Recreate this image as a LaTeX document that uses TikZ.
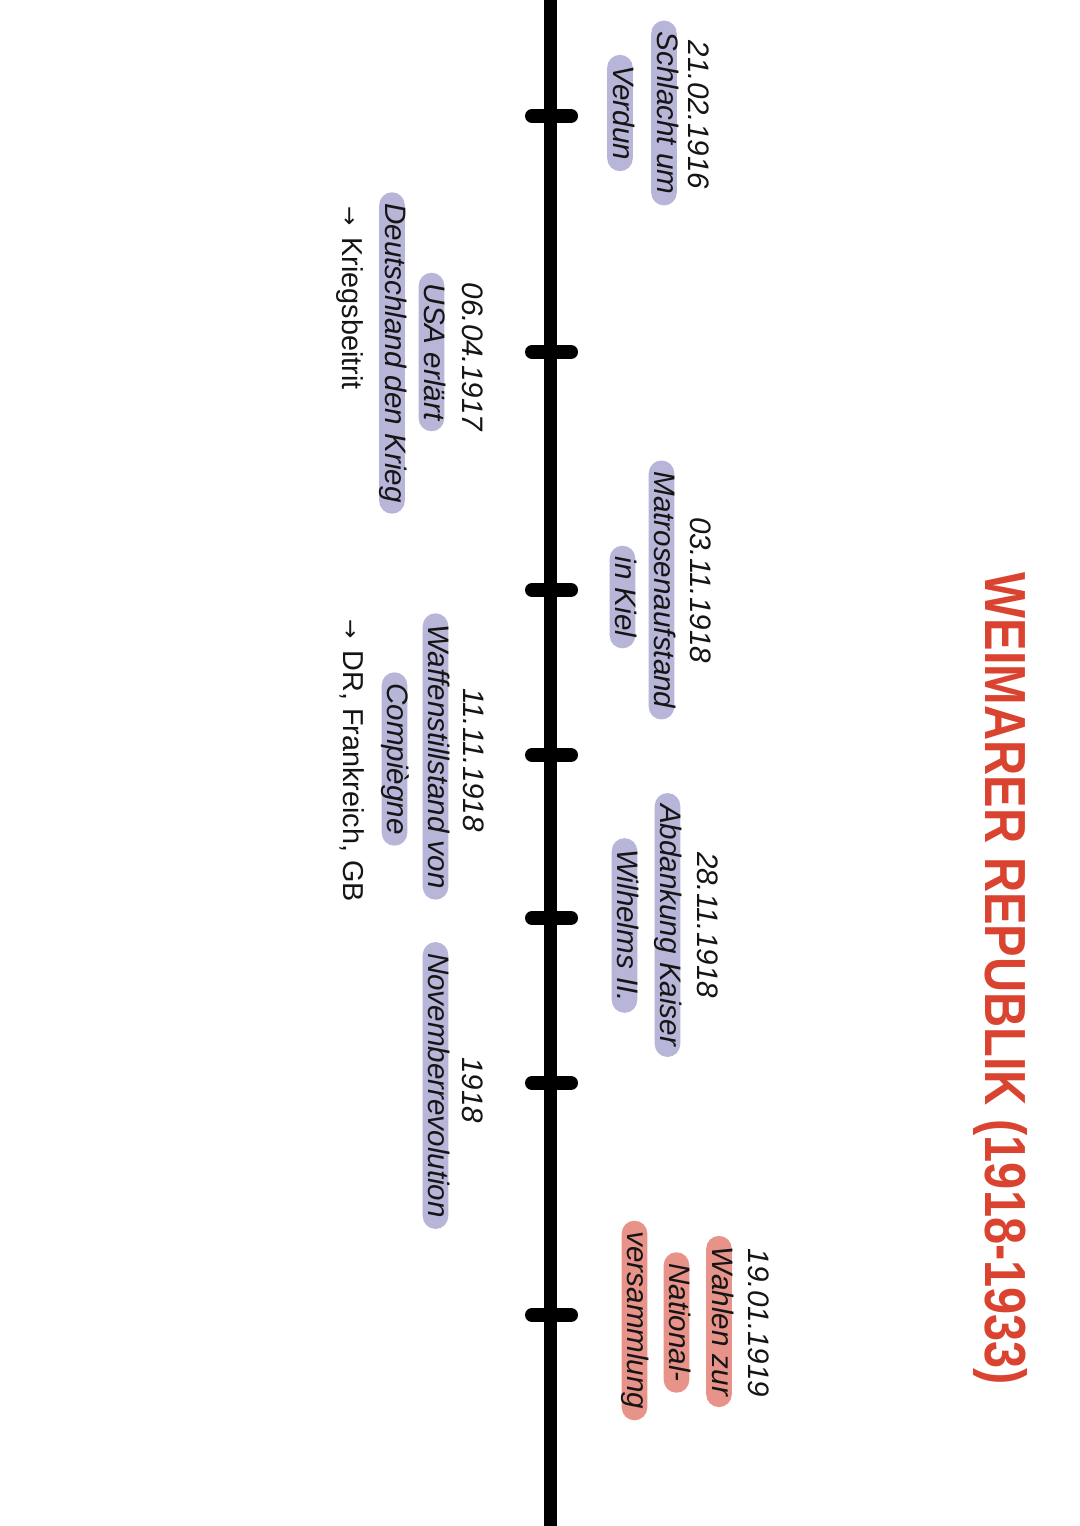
\documentclass[tikz,border=0pt]{standalone}
\usepackage{fontspec}
\setmainfont{Liberation Sans}
\newfontfamily\titlefont[FakeStretch=0.84]{Liberation Sans Bold}
\newfontfamily\symfont{DejaVu Sans}
\usetikzlibrary{calc}
\definecolor{lav}{HTML}{B8B6D8}
\definecolor{sal}{HTML}{E8938A}
\definecolor{titlered}{HTML}{D9432F}
\definecolor{inkc}{HTML}{151515}
\tikzset{
  lbl/.style={rotate=-90, inner sep=0pt, text=inkc},
  datelbl/.style={lbl, font=\fontsize{14.8}{16}\selectfont\itshape, anchor=base},
  pill/.style={lbl, fill=lav, rounded corners=6.4pt, font=\fontsize{14.8}{16}\selectfont\itshape,
    text height=9.9pt, text depth=2.9pt, inner xsep=5.5pt, inner ysep=0pt},
  redpill/.style={pill, fill=sal},
  note/.style={lbl, font=\fontsize{14.4}{16}\selectfont, anchor=base west},
  titlelbl/.style={lbl, text=titlered, font=\fontsize{29}{32}\selectfont\titlefont, anchor=base},
  axisline/.style={line width=6.5pt, black},
  tickmark/.style={line width=7pt, black, line cap=round}
}
\newcommand{\smallarrow}{{\fontsize{11.5}{12}\selectfont\symfont →}\hspace{6pt}}
\begin{document}
\begin{tikzpicture}[x=0.5pt, y=-0.5pt]
\fill[white] (0,0) rectangle (1080,1526);
\useasboundingbox (0,0) rectangle (1080,1526);

% axis
\coordinate (top) at (550.5,0);
\coordinate (bot) at (550.5,1526);
\draw[axisline] (top) -- (bot);
\foreach \n/\yy in {1/116, 2/352, 3/590, 4/755, 5/918, 6/1083, 7/1315}{
  \coordinate (tl\n) at (532,\yy);
  \coordinate (tr\n) at (571,\yy);
  \draw[tickmark] (tl\n) -- (tr\n);
}

% title
\node[titlelbl] (title) at (985,979) {WEIMARER REPUBLIK (1918-1933)};

% group 1
\node[datelbl] (d1) at (688,115) {21.02.1916};
\node[pill] (p1a) at (664,113) {Schlacht um};
\node[pill] (p1b) at (620,113) {Verdun};

% group 2
\node[datelbl] (d2) at (462,357) {06.04.1917};
\node[pill] (p2a) at (431.5,352) {USA erlärt};
\node[pill] (p2b) at (392,353) {Deutschland den Krieg};
\node[note] (n2) at (342,206) {\smallarrow Kriegsbeitrit};

% group 3
\node[datelbl] (d3) at (690,590) {03.11.1918};
\node[pill] (p3a) at (661.5,590) {Matrosenaufstand};
\node[pill] (p3b) at (622.5,597) {in Kiel};

% group 4
\node[datelbl] (d4) at (463,760) {11.11.1918};
\node[pill] (p4a) at (435.5,756.5) {Waffenstillstand von};
\node[pill] (p4b) at (394.5,759) {Compiègne};
\node[note] (n4) at (343,619) {\smallarrow DR, Frankreich, GB};

% group 5
\node[datelbl] (d5) at (697,925) {28.11.1918};
\node[pill] (p5a) at (667.5,925) {Abdankung Kaiser};
\node[pill] (p5b) at (624.5,925.5) {Wilhelms II.};

% group 6
\node[datelbl] (d6) at (462,1090) {1918};
\node[pill] (p6a) at (435.5,1085.5) {Novemberrevolution};

% group 7
\node[datelbl] (d7) at (748,1323) {19.01.1919};
\node[redpill] (p7a) at (719,1321.5) {Wahlen zur};
\node[redpill] (p7b) at (676.5,1322.5) {National-};
\node[redpill] (p7c) at (634.5,1320.5) {versammlung};
\end{tikzpicture}
\end{document}
